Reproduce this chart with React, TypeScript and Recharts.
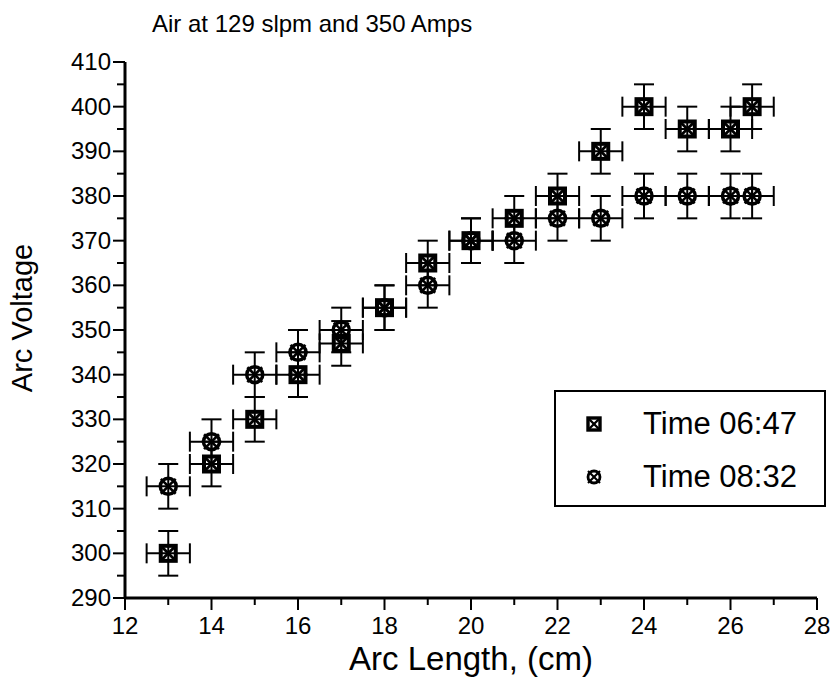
import { ScatterChart, Scatter, XAxis, YAxis, ErrorBar, Legend, Label } from 'recharts'

const FONT = '"Liberation Sans", Arial, Helvetica, sans-serif'

// Time 06:47 (square with cross)
const arcLengthA = [13, 14, 15, 16, 17, 18, 19, 20, 21, 22, 23, 24, 25, 26, 26.5]
const voltageA = [300, 320, 330, 340, 347, 355, 365, 370, 375, 380, 390, 400, 395, 395, 400]

// Time 08:32 (circle with cross)
const arcLengthB = [13, 14, 15, 16, 17, 18, 19, 20, 21, 22, 23, 24, 25, 26, 26.5]
const voltageB = [315, 325, 340, 345, 350, 355, 360, 370, 370, 375, 375, 380, 380, 380, 380]

const lengthError = 0.5
const voltageError = 5

const xTicks = [12, 13, 14, 15, 16, 17, 18, 19, 20, 21, 22, 23, 24, 25, 26, 27, 28]
const yTicks = [290, 295, 300, 305, 310, 315, 320, 325, 330, 335, 340, 345, 350, 355, 360, 365, 370, 375, 380, 385, 390, 395, 400, 405, 410]

const seriesA = arcLengthA.map((x, i) => ({ x, y: voltageA[i], ex: lengthError, ey: voltageError }))
const seriesB = arcLengthB.map((x, i) => ({ x, y: voltageB[i], ex: lengthError, ey: voltageError }))

function SquareCross({ cx, cy, side = 15, sw = 4 }: any) {
    const h = side / 2
    return (
        <g stroke="#000" strokeWidth={sw} fill="none">
            <rect x={cx - h} y={cy - h} width={side} height={side} />
            <line x1={cx - h} y1={cy - h} x2={cx + h} y2={cy + h} strokeWidth={sw * 0.7} />
            <line x1={cx - h} y1={cy + h} x2={cx + h} y2={cy - h} strokeWidth={sw * 0.7} />
        </g>
    )
}

function CircleCross({ cx, cy, rad = 8, sw = 3.5 }: any) {
    const d = (rad + 2.5) * 0.7071
    return (
        <g stroke="#000" strokeWidth={sw} fill="none">
            <circle cx={cx} cy={cy} r={rad} />
            <line x1={cx - d} y1={cy - d} x2={cx + d} y2={cy + d} strokeWidth={sw * 0.75} />
            <line x1={cx - d} y1={cy + d} x2={cx + d} y2={cy - d} strokeWidth={sw * 0.75} />
        </g>
    )
}

function YTick({ x, y, payload }: any) {
    const major = payload.value % 10 === 0
    return (
        <g>
            <line x1={x} y1={y} x2={x - (major ? 12 : 8)} y2={y} stroke="#000" strokeWidth={2} />
            {major && (
                <text x={x - 14} y={y} dy={8} textAnchor="end" fontSize={24} fontFamily={FONT} fill="#000">
                    {payload.value}
                </text>
            )}
        </g>
    )
}

function XTick({ x, y, payload }: any) {
    const major = payload.value % 2 === 0
    return (
        <g>
            <line x1={x} y1={y} x2={x} y2={y + (major ? 12 : 7)} stroke="#000" strokeWidth={2} />
            {major && (
                <text x={x} y={y + 36} textAnchor="middle" fontSize={24} fontFamily={FONT} fill="#000">
                    {payload.value}
                </text>
            )}
        </g>
    )
}

function LegendBox({ payload }: any) {
    const items = payload ?? []
    return (
        <div
            style={{
                width: 268,
                height: 113,
                border: '2px solid #000',
                background: '#fff',
                fontFamily: FONT,
                fontSize: 31,
                color: '#000',
                position: 'relative',
            }}
        >
            {items.map((p: any, i: number) => (
                <div
                    key={p.value}
                    style={{ position: 'absolute', left: 0, top: 14 + i * 53, height: 36, display: 'flex', alignItems: 'center' }}
                >
                    <svg width={80} height={36} style={{ display: 'block' }}>
                        {i === 0 ? (
                            <SquareCross cx={38} cy={18} side={12} sw={3.4} />
                        ) : (
                            <CircleCross cx={38} cy={18} rad={6} sw={2.8} />
                        )}
                    </svg>
                    <span style={{ marginLeft: 7, lineHeight: '36px' }}>{p.value}</span>
                </div>
            ))}
        </div>
    )
}

export default function App() {
    return (
        <div style={{ position: 'absolute', left: 0, top: 0, width: 835, height: 692, background: '#fff' }}>
            <div
                style={{
                    position: 'absolute',
                    left: 152,
                    top: 11,
                    fontFamily: FONT,
                    fontSize: 24,
                    lineHeight: '25px',
                    color: '#000',
                    whiteSpace: 'nowrap',
                }}
            >
                Air at 129 slpm and 350 Amps
            </div>
            <ScatterChart width={835} height={692} margin={{ top: 62, right: 18, bottom: 0, left: 0 }}>
                <XAxis
                    type="number"
                    dataKey="x"
                    domain={[12, 28]}
                    ticks={xTicks}
                    interval={0}
                    height={94}
                    axisLine={{ stroke: '#000', strokeWidth: 3 }}
                    tickLine={false}
                    tickSize={0}
                    tickMargin={0}
                    tick={<XTick />}
                >
                    <Label
                        content={({ viewBox }: any) => (
                            <text
                                x={viewBox.x + viewBox.width / 2}
                                y={viewBox.y + 72}
                                textAnchor="middle"
                                fontSize={33}
                                fontFamily={FONT}
                                fill="#000"
                            >
                                Arc Length, (cm)
                            </text>
                        )}
                    />
                </XAxis>
                <YAxis
                    type="number"
                    dataKey="y"
                    domain={[290, 410]}
                    ticks={yTicks}
                    interval={0}
                    width={125}
                    axisLine={{ stroke: '#000', strokeWidth: 3 }}
                    tickLine={false}
                    tickSize={0}
                    tickMargin={0}
                    tick={<YTick />}
                >
                    <Label
                        content={({ viewBox }: any) => (
                            <text
                                x={viewBox.x + 32}
                                y={318}
                                transform={`rotate(-90, ${viewBox.x + 32}, 318)`}
                                textAnchor="middle"
                                fontSize={29}
                                fontFamily={FONT}
                                fill="#000"
                            >
                                Arc Voltage
                            </text>
                        )}
                    />
                </YAxis>
                <Legend
                    layout="horizontal"
                    verticalAlign="middle"
                    align="center"
                    wrapperStyle={{ left: 554, top: 390, width: 272, height: 117, bottom: 'auto', right: 'auto' }}
                    content={<LegendBox />}
                />
                <Scatter
                    name="Time 06:47"
                    data={seriesA}
                    shape={<SquareCross />}
                    isAnimationActive={false}
                >
                    <ErrorBar dataKey="ex" direction="x" width={10} stroke="#000" strokeWidth={2} />
                    <ErrorBar dataKey="ey" direction="y" width={10} stroke="#000" strokeWidth={2} />
                </Scatter>
                <Scatter
                    name="Time 08:32"
                    data={seriesB}
                    shape={<CircleCross />}
                    isAnimationActive={false}
                >
                    <ErrorBar dataKey="ex" direction="x" width={10} stroke="#000" strokeWidth={2} />
                    <ErrorBar dataKey="ey" direction="y" width={10} stroke="#000" strokeWidth={2} />
                </Scatter>
            </ScatterChart>
        </div>
    )
}
